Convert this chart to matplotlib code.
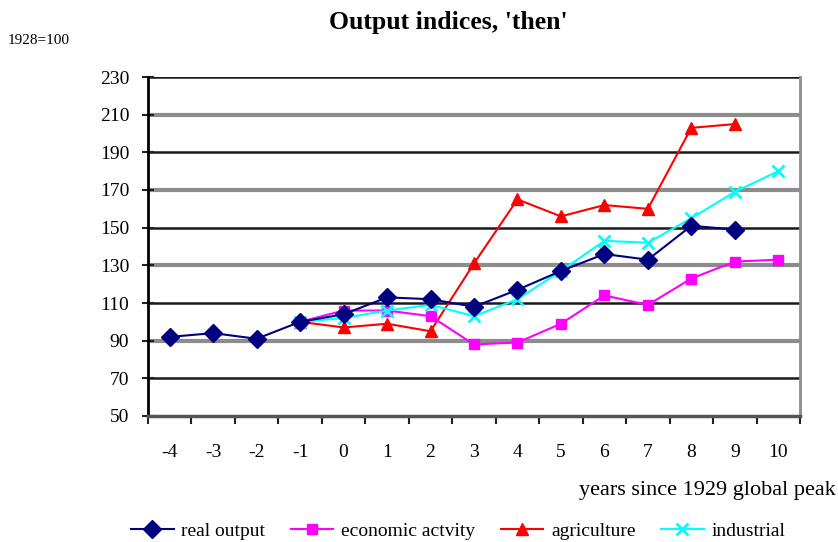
import numpy as np
import matplotlib
matplotlib.use("Agg")
import matplotlib.pyplot as plt

plt.rcParams['font.family'] = ['Liberation Serif', 'DejaVu Serif']
plt.rcParams['axes.unicode_minus'] = False

years = list(range(-4, 11))
real_output = [92, 94, 91, 100, 104, 113, 112, 108, 117, 127, 136, 133, 151, 149]
econ_activity = [100, 106, 106, 103, 88, 89, 99, 114, 109, 123, 132, 133]
agriculture = [100, 97, 99, 95, 131, 165, 156, 162, 160, 203, 205]
industrial = [100, 102, 106, 109, 103, 112, 127, 143, 142, 155, 169, 180]
yticks = list(range(50, 231, 20))

fig = plt.figure(figsize=(8.38, 5.42), dpi=100)
ax = fig.add_axes([148/838, 1-416/542, (800-148)/838, (416-77)/542])

# alternating grid lines like the scanned original
for v in yticks[1:]:
    if (v - 70) % 40 == 0:
        ax.axhline(v, color='#1a1a1a', lw=1.8, zorder=1)
    else:
        ax.axhline(v, color='#8c8c8c', lw=3.0, zorder=1)

def xs(start, vals):
    return [start + i for i in range(len(vals))]

ax.plot(xs(-4, real_output), real_output, color='#000080', marker='D', ms=9, lw=1.5,
        label='real output', zorder=5)
ax.plot(xs(-1, econ_activity), econ_activity, color='#ff00ff', marker='s', ms=7, lw=1.5,
        label='economic actvity', zorder=4)
ax.plot(xs(-1, agriculture), agriculture, color='#ff0000', marker='^', ms=8, lw=1.5,
        label='agriculture', zorder=3)
ax.plot(xs(-1, industrial), industrial, color='#00ffff', marker='x', ms=9, mew=2, lw=1.5,
        label='industrial', zorder=4)

ax.set_xlim(-4.5, 10.5)
ax.set_ylim(50, 230)
ax.set_yticks(yticks)
ax.set_xticks(years)
ax.set_xticks(np.arange(-4.5, 10.6, 1), minor=True)
ax.tick_params(axis='x', which='major', length=0, pad=20, labelsize=14)
ax.tick_params(axis='x', which='minor', length=6, width=1.5, direction='out', color='#222222')
ax.tick_params(axis='y', length=9, width=1.5, direction='inout', labelsize=14, pad=9,
               color='#222222')

ax.spines['left'].set_color('black')
ax.spines['left'].set_linewidth(2)
ax.spines['bottom'].set_color('#555555')
ax.spines['bottom'].set_linewidth(2.5)
ax.spines['right'].set_color('#8c8c8c')
ax.spines['right'].set_linewidth(2)
ax.spines['top'].set_visible(False)

fig.text(448/838, 1-22/542, "Output indices, 'then'", ha='center', va='center',
         fontsize=18.5, fontweight='bold')
fig.text(8/838, 1-40/542, "1928=100", ha='left', va='center', fontsize=11)
fig.text(836/838, 1-490/542, "years since 1929 global peak", ha='right', va='center',
         fontsize=16)

fig.legend(loc='center', bbox_to_anchor=(458/838, 1-531/542), ncol=4, frameon=False,
           fontsize=14, handlelength=2.2, columnspacing=1.3, handletextpad=0.4,
           borderpad=0)

fig.savefig("out.png", dpi=100)
